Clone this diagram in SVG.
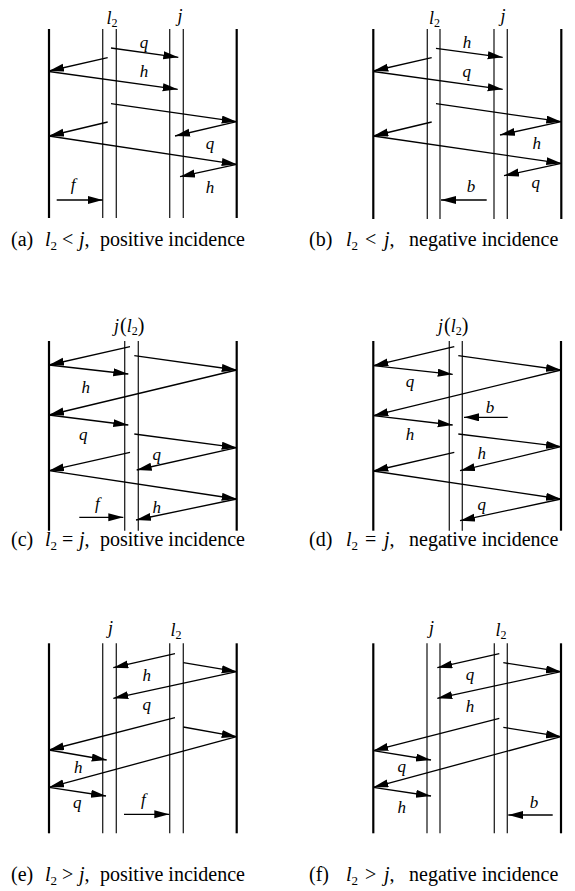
<svg xmlns="http://www.w3.org/2000/svg" width="575" height="891" viewBox="0 0 575 891" font-family="Liberation Serif, Times New Roman, serif">
<defs>
<marker id="ah" markerUnits="userSpaceOnUse" markerWidth="16" markerHeight="9" refX="15" refY="4" orient="auto">
<path d="M0,0 L15,4 L0,8 z" fill="#000"/>
</marker>
</defs>
<style>
.outer{stroke:#000;stroke-width:2.2;fill:none}
.inner{stroke:#222;stroke-width:1.3;fill:none}
.ar{stroke:#000;stroke-width:1.3;fill:none;marker-end:url(#ah)}
text{fill:#000}
.lb{font-size:17px;font-style:italic;text-anchor:middle}
.tl{font-size:18px;font-style:italic}
.np{font-style:normal}
.sub{font-size:12px;font-style:normal}
.cap{font-size:20px}
.it{font-style:italic}
.csub{font-size:13px}
</style>
<rect width="575" height="891" fill="#fff"/>

<!-- Panel (a) -->
<g id="panel-a">
<g id="a-lines">
<line class="outer" x1="49" y1="29" x2="49" y2="218"/>
<line class="inner" x1="102.7" y1="29" x2="102.7" y2="218"/>
<line class="inner" x1="116.3" y1="29" x2="116.3" y2="218"/>
<line class="inner" x1="169.7" y1="29" x2="169.7" y2="218"/>
<line class="inner" x1="183.3" y1="29" x2="183.3" y2="218"/>
<line class="outer" x1="236.7" y1="29" x2="236.7" y2="218"/>
</g>
<text class="tl" x="106.5" y="24">l<tspan class="sub" dy="3">2</tspan></text>
<text class="tl" x="177.5" y="22">j</text>
<g id="a-connectors">
<line class="ar" x1="111" y1="48" x2="178.3" y2="57.3"/>
<line class="ar" x1="107.7" y1="57.7" x2="49" y2="71"/>
<line class="ar" x1="49" y1="71.5" x2="177.7" y2="89.3"/>
<line class="ar" x1="111" y1="103.7" x2="236.7" y2="121.7"/>
<line class="ar" x1="236.7" y1="121.7" x2="175" y2="136"/>
<line class="ar" x1="107.7" y1="122" x2="49" y2="136"/>
<line class="ar" x1="49" y1="136" x2="236.7" y2="164.3"/>
<line class="ar" x1="236.7" y1="164.3" x2="180" y2="176.7"/>
<line class="ar" x1="56.7" y1="200" x2="102.7" y2="200"/>
</g>
<text class="lb" x="144" y="48">q</text>
<text class="lb" x="144" y="77">h</text>
<text class="lb" x="210" y="149">q</text>
<text class="lb" x="210" y="193">h</text>
<text class="lb" x="73" y="190">f</text>
</g>

<!-- Panel (b) -->
<g id="panel-b">
<g id="b-lines">
<line class="outer" x1="373.3" y1="29" x2="373.3" y2="219"/>
<line class="inner" x1="427.3" y1="29" x2="427.3" y2="219"/>
<line class="inner" x1="440" y1="29" x2="440" y2="219"/>
<line class="inner" x1="494" y1="29" x2="494" y2="219"/>
<line class="inner" x1="507.3" y1="29" x2="507.3" y2="219"/>
<line class="outer" x1="561.3" y1="29" x2="561.3" y2="219"/>
</g>
<text class="tl" x="429" y="24">l<tspan class="sub" dy="3">2</tspan></text>
<text class="tl" x="500.5" y="22">j</text>
<g id="b-connectors">
<line class="ar" x1="436" y1="48.3" x2="502.7" y2="57.3"/>
<line class="ar" x1="431.7" y1="57.7" x2="373.3" y2="71"/>
<line class="ar" x1="373.3" y1="71.5" x2="502.7" y2="89.3"/>
<line class="ar" x1="436" y1="103.7" x2="561.3" y2="121.7"/>
<line class="ar" x1="561.3" y1="121.7" x2="500" y2="135"/>
<line class="ar" x1="431.7" y1="122" x2="373.3" y2="136"/>
<line class="ar" x1="373.3" y1="136" x2="561.3" y2="163.3"/>
<line class="ar" x1="561.3" y1="163.3" x2="504" y2="175.7"/>
<line class="ar" x1="486.7" y1="200" x2="441" y2="200"/>
</g>
<text class="lb" x="467" y="48">h</text>
<text class="lb" x="466.7" y="77">q</text>
<text class="lb" x="536.7" y="149">h</text>
<text class="lb" x="535.7" y="188">q</text>
<text class="lb" x="471" y="192">b</text>
</g>

<!-- Panel (c) -->
<g id="panel-c">
<g id="c-lines">
<line class="outer" x1="49" y1="341" x2="49" y2="530.7"/>
<line class="inner" x1="124.7" y1="341" x2="124.7" y2="530.7"/>
<line class="inner" x1="138.3" y1="341" x2="138.3" y2="530.7"/>
<line class="outer" x1="236.7" y1="341" x2="236.7" y2="530.7"/>
</g>
<text class="tl" x="114" y="332">j<tspan class="np" font-size="20" dx="1">(</tspan>l<tspan class="sub" dy="3">2</tspan><tspan class="np" font-size="20" dy="-3">)</tspan></text>
<g id="c-connectors">
<line class="ar" x1="130" y1="346.7" x2="49" y2="365"/>
<line class="ar" x1="49" y1="365" x2="128.3" y2="374"/>
<line class="ar" x1="134.3" y1="355.7" x2="236.7" y2="370"/>
<line class="ar" x1="236.7" y1="370" x2="49" y2="415"/>
<line class="ar" x1="49" y1="415" x2="128.3" y2="425"/>
<line class="ar" x1="134.3" y1="434" x2="236.7" y2="447.7"/>
<line class="ar" x1="236.7" y1="447.7" x2="136.7" y2="470"/>
<line class="ar" x1="130" y1="452.3" x2="49" y2="470.7"/>
<line class="ar" x1="49" y1="470.7" x2="236.7" y2="499"/>
<line class="ar" x1="236.7" y1="499" x2="136" y2="520"/>
<line class="ar" x1="79.3" y1="517.3" x2="123.3" y2="517.3"/>
</g>
<text class="lb" x="85.7" y="393">h</text>
<text class="lb" x="83.3" y="440">q</text>
<text class="lb" x="156.7" y="460">q</text>
<text class="lb" x="156.7" y="513">h</text>
<text class="lb" x="97.3" y="509">f</text>
</g>

<!-- Panel (d) -->
<g id="panel-d">
<g id="d-lines">
<line class="outer" x1="373.3" y1="341" x2="373.3" y2="530.7"/>
<line class="inner" x1="449.3" y1="341" x2="449.3" y2="530.7"/>
<line class="inner" x1="462.3" y1="341" x2="462.3" y2="530.7"/>
<line class="outer" x1="561" y1="341" x2="561" y2="530.7"/>
</g>
<text class="tl" x="438" y="332">j<tspan class="np" font-size="20" dx="1">(</tspan>l<tspan class="sub" dy="3">2</tspan><tspan class="np" font-size="20" dy="-3">)</tspan></text>
<g id="d-connectors">
<line class="ar" x1="454.3" y1="346.7" x2="373.3" y2="365.7"/>
<line class="ar" x1="373.3" y1="365.7" x2="452.7" y2="374.3"/>
<line class="ar" x1="458.3" y1="355.7" x2="561" y2="370"/>
<line class="ar" x1="561" y1="370" x2="373.3" y2="415.7"/>
<line class="ar" x1="373.3" y1="415.7" x2="452.7" y2="425"/>
<line class="ar" x1="507.7" y1="417.3" x2="464" y2="417.3"/>
<line class="ar" x1="458.3" y1="434" x2="561" y2="446.7"/>
<line class="ar" x1="561" y1="446.7" x2="460" y2="470.7"/>
<line class="ar" x1="454.3" y1="452.3" x2="373.3" y2="471"/>
<line class="ar" x1="373.3" y1="471" x2="561" y2="499"/>
<line class="ar" x1="561" y1="499" x2="460" y2="520.7"/>
</g>
<text class="lb" x="410" y="387">q</text>
<text class="lb" x="410" y="440">h</text>
<text class="lb" x="490" y="413">b</text>
<text class="lb" x="481.7" y="459">h</text>
<text class="lb" x="481.7" y="510">q</text>
</g>

<!-- Panel (e) -->
<g id="panel-e">
<g id="e-lines">
<line class="outer" x1="49" y1="643.3" x2="49" y2="833.3"/>
<line class="inner" x1="102.7" y1="643.3" x2="102.7" y2="833.3"/>
<line class="inner" x1="116.3" y1="643.3" x2="116.3" y2="833.3"/>
<line class="inner" x1="169.7" y1="643.3" x2="169.7" y2="833.3"/>
<line class="inner" x1="183.3" y1="643.3" x2="183.3" y2="833.3"/>
<line class="outer" x1="236.7" y1="643.3" x2="236.7" y2="833.3"/>
</g>
<text class="tl" x="108" y="634">j</text>
<text class="tl" x="170.5" y="636">l<tspan class="sub" dy="3">2</tspan></text>
<g id="e-connectors">
<line class="ar" x1="175" y1="653.7" x2="113.3" y2="667.7"/>
<line class="ar" x1="183.3" y1="662.7" x2="236.7" y2="671.7"/>
<line class="ar" x1="236.7" y1="671.7" x2="113.3" y2="698.3"/>
<line class="ar" x1="175" y1="717.7" x2="49" y2="750"/>
<line class="ar" x1="183.3" y1="727" x2="236.7" y2="736.7"/>
<line class="ar" x1="49" y1="750" x2="106.7" y2="760"/>
<line class="ar" x1="236.7" y1="736.7" x2="49" y2="787.3"/>
<line class="ar" x1="49" y1="787.3" x2="106" y2="796"/>
<line class="ar" x1="124" y1="814.3" x2="169.3" y2="814.3"/>
</g>
<text class="lb" x="146.7" y="680.7">h</text>
<text class="lb" x="146.7" y="710">q</text>
<text class="lb" x="78.3" y="773.3">h</text>
<text class="lb" x="77.3" y="808.3">q</text>
<text class="lb" x="143.3" y="805">f</text>
</g>

<!-- Panel (f) -->
<g id="panel-f">
<g id="f-lines">
<line class="outer" x1="373.3" y1="643.3" x2="373.3" y2="833.3"/>
<line class="inner" x1="427" y1="643.3" x2="427" y2="833.3"/>
<line class="inner" x1="440" y1="643.3" x2="440" y2="833.3"/>
<line class="inner" x1="494.3" y1="643.3" x2="494.3" y2="833.3"/>
<line class="inner" x1="507.3" y1="643.3" x2="507.3" y2="833.3"/>
<line class="outer" x1="561" y1="643.3" x2="561" y2="833.3"/>
</g>
<text class="tl" x="429" y="634">j</text>
<text class="tl" x="495.5" y="636">l<tspan class="sub" dy="3">2</tspan></text>
<g id="f-connectors">
<line class="ar" x1="499.3" y1="653.7" x2="437.3" y2="667.7"/>
<line class="ar" x1="503.3" y1="662.7" x2="561" y2="671.7"/>
<line class="ar" x1="561" y1="671.7" x2="437.3" y2="698.3"/>
<line class="ar" x1="499.3" y1="718.3" x2="373.3" y2="750.7"/>
<line class="ar" x1="503.3" y1="727.3" x2="561" y2="736.7"/>
<line class="ar" x1="373.3" y1="750.7" x2="431" y2="760"/>
<line class="ar" x1="561" y1="736.7" x2="373.3" y2="787.3"/>
<line class="ar" x1="373.3" y1="787.3" x2="431" y2="796"/>
<line class="ar" x1="552.7" y1="815" x2="508.3" y2="815"/>
</g>
<text class="lb" x="470" y="680">q</text>
<text class="lb" x="470" y="711.7">h</text>
<text class="lb" x="401.7" y="771.7">q</text>
<text class="lb" x="401.7" y="813.3">h</text>
<text class="lb" x="534" y="808.3">b</text>
</g>

<!-- Captions -->
<g id="captions">
<text class="cap" y="246"><tspan x="11">(a)</tspan><tspan x="45" class="it">l</tspan><tspan class="csub" dy="4">2</tspan><tspan x="62" dy="-4">&lt;</tspan><tspan x="79" class="it">j</tspan><tspan>,</tspan><tspan x="100">positive incidence</tspan></text>
<text class="cap" y="246"><tspan x="309">(b)</tspan><tspan x="346" class="it">l</tspan><tspan class="csub" dy="4">2</tspan><tspan x="365" dy="-4">&lt;</tspan><tspan x="384" class="it">j</tspan><tspan>,</tspan><tspan x="409">negative incidence</tspan></text>
<text class="cap" y="546"><tspan x="11">(c)</tspan><tspan x="45" class="it">l</tspan><tspan class="csub" dy="4">2</tspan><tspan x="62" dy="-4">=</tspan><tspan x="79" class="it">j</tspan><tspan>,</tspan><tspan x="100">positive incidence</tspan></text>
<text class="cap" y="546"><tspan x="309">(d)</tspan><tspan x="346" class="it">l</tspan><tspan class="csub" dy="4">2</tspan><tspan x="365" dy="-4">=</tspan><tspan x="384" class="it">j</tspan><tspan>,</tspan><tspan x="409">negative incidence</tspan></text>
<text class="cap" y="881"><tspan x="11">(e)</tspan><tspan x="45" class="it">l</tspan><tspan class="csub" dy="4">2</tspan><tspan x="62" dy="-4">&gt;</tspan><tspan x="79" class="it">j</tspan><tspan>,</tspan><tspan x="100">positive incidence</tspan></text>
<text class="cap" y="881"><tspan x="309">(f)</tspan><tspan x="346" class="it">l</tspan><tspan class="csub" dy="4">2</tspan><tspan x="365" dy="-4">&gt;</tspan><tspan x="384" class="it">j</tspan><tspan>,</tspan><tspan x="409">negative incidence</tspan></text>
</g>
</svg>
